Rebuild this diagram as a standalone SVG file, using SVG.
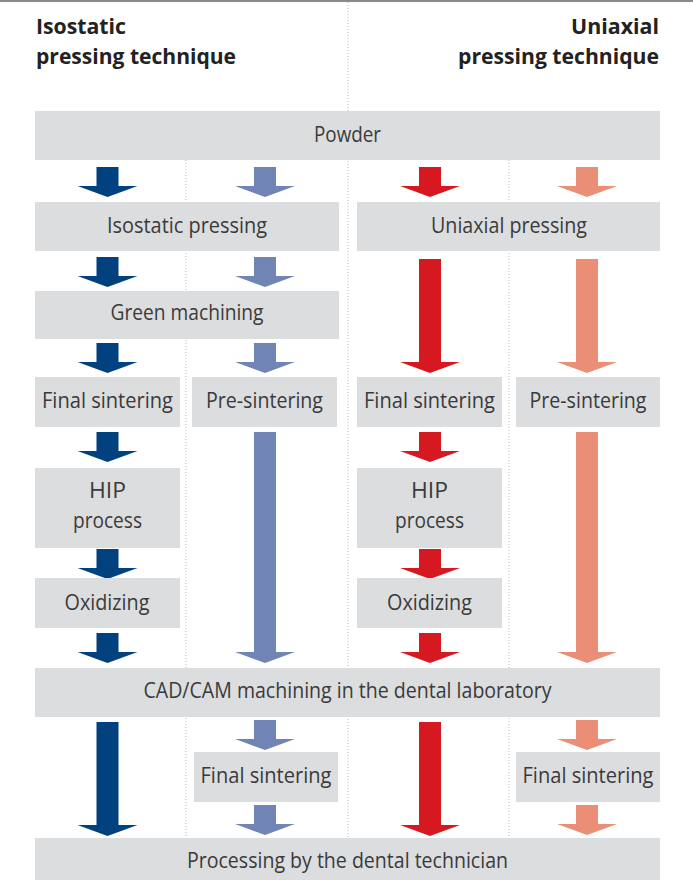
<svg xmlns="http://www.w3.org/2000/svg" width="693" height="880" viewBox="0 0 693 880">
<style>
.box{fill:#dcdddf}
.t{font-family:"Open Sans","Noto Sans",sans-serif;font-size:22px;fill:#3a3a3a;text-anchor:middle}
.h{font-family:"Open Sans","Noto Sans",sans-serif;font-size:22px;font-weight:bold;fill:#222}
.dot{stroke:#b8b8b8;stroke-width:1;stroke-dasharray:1 2;fill:none}
.db{fill:#00417e}.lb{fill:#7185b5}.rd{fill:#d61921}.sa{fill:#ea8e75}
</style>
<defs>
<path id="sa1" d="M-11 0h22v19h19l-30 11l-30 -11h19z"/>
</defs>
<rect x="0" y="0" width="693" height="2" fill="#8a8a8a"/>
<g id="gridlines">
<line class="dot" x1="348" y1="2" x2="348" y2="838"/>
<line class="dot" x1="186" y1="160" x2="186" y2="838"/>
<line class="dot" x1="509" y1="160" x2="509" y2="838"/>
</g>
<g id="header-left"><text class="h" x="36" y="34" textLength="90" lengthAdjust="spacingAndGlyphs">Isostatic</text><text class="h" x="36" y="64" textLength="200" lengthAdjust="spacingAndGlyphs">pressing technique</text></g>
<g id="header-right"><text class="h" x="571" y="34" textLength="88" lengthAdjust="spacingAndGlyphs">Uniaxial</text><text class="h" x="458" y="64" textLength="201" lengthAdjust="spacingAndGlyphs">pressing technique</text></g>

<g id="connectors">
<use href="#sa1" class="db" x="107.5" y="167"/>
<use href="#sa1" class="lb" x="265" y="167"/>
<use href="#sa1" class="rd" x="430" y="167"/>
<use href="#sa1" class="sa" x="587" y="167"/>
<use href="#sa1" class="db" x="107.5" y="257"/>
<use href="#sa1" class="lb" x="265" y="257"/>
<use href="#sa1" class="db" x="107.5" y="343"/>
<use href="#sa1" class="lb" x="265" y="343"/>
<use href="#sa1" class="db" x="107.5" y="432"/>
<use href="#sa1" class="rd" x="430" y="432"/>
<use href="#sa1" class="db" x="107.5" y="549"/>
<use href="#sa1" class="rd" x="430" y="549"/>
<use href="#sa1" class="db" x="107.5" y="633"/>
<use href="#sa1" class="rd" x="430" y="633"/>
<use href="#sa1" class="lb" x="265" y="720"/>
<use href="#sa1" class="sa" x="587" y="720"/>
<use href="#sa1" class="lb" x="265" y="805"/>
<use href="#sa1" class="sa" x="587" y="805"/>
<path class="rd" d="M419 259h22v103h19l-30 11l-30 -11h19z"/>
<path class="sa" d="M576 259h22v103h19l-30 11l-30 -11h19z"/>
<path class="lb" d="M254 432h22v220h19l-30 11l-30 -11h19z"/>
<path class="sa" d="M576 432h22v220h19l-30 11l-30 -11h19z"/>
<path class="db" d="M96.5 722h22v103h19l-30 11l-30 -11h19z"/>
<path class="rd" d="M419 722h22v103h19l-30 11l-30 -11h19z"/>
</g>

<g id="powder"><rect class="box" x="35" y="111" width="625" height="49"/><text class="t" x="347.5" y="142" textLength="67" lengthAdjust="spacingAndGlyphs">Powder</text></g>
<g id="isostatic-pressing"><rect class="box" x="35" y="202" width="304" height="49"/><text class="t" x="187" y="233" textLength="160" lengthAdjust="spacingAndGlyphs">Isostatic pressing</text></g>
<g id="uniaxial-pressing"><rect class="box" x="357" y="202" width="303" height="49"/><text class="t" x="509" y="233" textLength="156" lengthAdjust="spacingAndGlyphs">Uniaxial pressing</text></g>
<g id="green-machining"><rect class="box" x="35" y="291" width="304" height="48"/><text class="t" x="187" y="320" textLength="153" lengthAdjust="spacingAndGlyphs">Green machining</text></g>
<g id="final-sintering-1"><rect class="box" x="35" y="377" width="145" height="50"/><text class="t" x="107.5" y="408" textLength="131" lengthAdjust="spacingAndGlyphs">Final sintering</text></g>
<g id="pre-sintering-2"><rect class="box" x="192" y="377" width="145" height="50"/><text class="t" x="264.5" y="408" textLength="117" lengthAdjust="spacingAndGlyphs">Pre-sintering</text></g>
<g id="final-sintering-3"><rect class="box" x="357" y="377" width="145" height="50"/><text class="t" x="429.5" y="408" textLength="131" lengthAdjust="spacingAndGlyphs">Final sintering</text></g>
<g id="pre-sintering-4"><rect class="box" x="516" y="377" width="144" height="50"/><text class="t" x="588" y="408" textLength="117" lengthAdjust="spacingAndGlyphs">Pre-sintering</text></g>
<g id="hip-1"><rect class="box" x="35" y="468" width="145" height="80"/><text class="t" x="107.5" y="498" textLength="37" lengthAdjust="spacingAndGlyphs">HIP</text><text class="t" x="107.5" y="528" textLength="69" lengthAdjust="spacingAndGlyphs">process</text></g>
<g id="hip-3"><rect class="box" x="357" y="468" width="145" height="80"/><text class="t" x="429.5" y="498" textLength="37" lengthAdjust="spacingAndGlyphs">HIP</text><text class="t" x="429.5" y="528" textLength="69" lengthAdjust="spacingAndGlyphs">process</text></g>
<g id="oxidizing-1"><rect class="box" x="35" y="578" width="145" height="50"/><text class="t" x="107" y="610" textLength="85" lengthAdjust="spacingAndGlyphs">Oxidizing</text></g>
<g id="oxidizing-3"><rect class="box" x="357" y="578" width="145" height="50"/><text class="t" x="429.5" y="610" textLength="85" lengthAdjust="spacingAndGlyphs">Oxidizing</text></g>
<g id="cadcam"><rect class="box" x="35" y="668" width="625" height="49"/><text class="t" x="347.5" y="698" textLength="408" lengthAdjust="spacingAndGlyphs">CAD/CAM machining in the dental laboratory</text></g>
<g id="final-sintering-2b"><rect class="box" x="194" y="752" width="144" height="50"/><text class="t" x="266" y="783" textLength="131" lengthAdjust="spacingAndGlyphs">Final sintering</text></g>
<g id="final-sintering-4b"><rect class="box" x="516" y="752" width="144" height="50"/><text class="t" x="588" y="783" textLength="131" lengthAdjust="spacingAndGlyphs">Final sintering</text></g>
<g id="processing"><rect class="box" x="35" y="838" width="625" height="42"/><text class="t" x="347.5" y="868" textLength="321" lengthAdjust="spacingAndGlyphs">Processing by the dental technician</text></g>
</svg>
